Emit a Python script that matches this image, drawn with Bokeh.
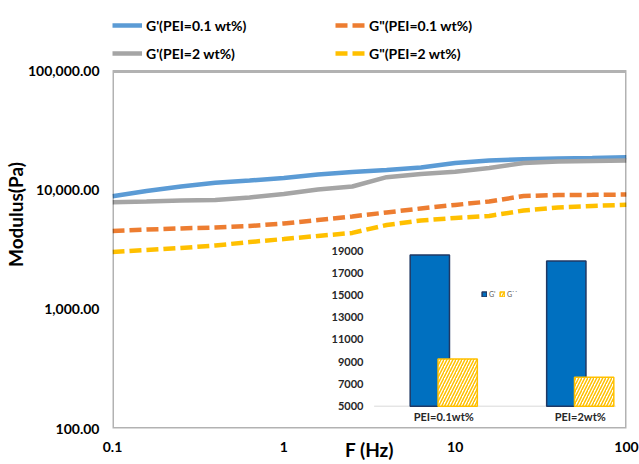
from bokeh.plotting import figure
from bokeh.models import (Range1d, FixedTicker, NumeralTickFormatter, Legend, LegendItem,
                          LinearScale, BoxAnnotation)
from bokeh.core.properties import value
from bokeh.embed import file_html
from bokeh.resources import INLINE

# ---- main data: frequency sweep ----
freq = [0.1, 0.158, 0.251, 0.398, 0.631, 1, 1.58, 2.51, 3.98, 6.31, 10, 15.8, 25.1, 39.8, 63.1, 100]
g1_01 = [8960, 9910, 10800, 11600, 12130, 12740, 13630, 14300, 14870, 15600, 17020, 17860, 18330, 18580, 18760, 19050]
g2_01 = [4570, 4700, 4800, 4890, 5030, 5280, 5650, 6050, 6540, 7060, 7560, 8090, 8990, 9170, 9190, 9250]
g1_2 = [7980, 8080, 8240, 8320, 8730, 9350, 10200, 10810, 12940, 13760, 14360, 15450, 17030, 17530, 17700, 17880]
g2_2 = [3040, 3160, 3290, 3450, 3690, 3910, 4150, 4400, 5130, 5600, 5880, 6110, 6790, 7200, 7410, 7590]

series_names = ["G'(PEI=0.1 wt%)", 'G"(PEI=0.1 wt%)', "G'(PEI=2 wt%)", 'G"(PEI=2 wt%)']

x_ticks = [0.1, 1, 10, 100]
y_ticks = [100, 1000, 10000, 100000]

# ---- inset data: bar chart ----
inset_cats = ["PEI=0.1wt%", "PEI=2wt%"]
inset_gp = [18600, 18050]
inset_gpp = [9250, 7600]
inset_ticks = [5000, 7000, 9000, 11000, 13000, 15000, 17000, 19000]

FONT = "Lato"

# frame extends to the top of the canvas so the legend (drawn inside the frame) is visible;
# the chart box itself is drawn as a BoxAnnotation from 0.1..100 x 100..100000
p = figure(width=639, height=464, x_axis_type="log", y_axis_type="log",
           x_range=Range1d(0.1, 100), y_range=Range1d(100, 395000),
           output_backend="svg", toolbar_location=None,
           min_border_left=110, min_border_right=13, min_border_top=0, min_border_bottom=36)

p.outline_line_color = None
p.xgrid.visible = False
p.ygrid.visible = False
p.background_fill_color = "white"
p.border_fill_color = "white"

box = BoxAnnotation(left=x_ticks[0], right=x_ticks[-1], bottom=y_ticks[0], top=y_ticks[-1],
                    fill_alpha=0, line_color="black", line_width=3)
p.add_layout(box)

for ax in (p.xaxis[0], p.yaxis[0]):
    ax.axis_line_color = None
    ax.major_tick_line_color = None
    ax.minor_tick_line_color = None
    ax.major_tick_out = 0
    ax.major_tick_in = 0
    ax.minor_tick_out = 0
    ax.minor_tick_in = 0
    ax.major_label_text_font = FONT
    ax.major_label_text_font_style = "bold"
    ax.major_label_text_font_size = "14px"
    ax.major_label_text_color = "black"
    ax.axis_label_text_font = FONT
    ax.axis_label_text_font_style = "bold"
    ax.axis_label_text_font_size = "19px"
    ax.axis_label_text_color = "black"

p.xaxis.ticker = FixedTicker(ticks=x_ticks)
p.xaxis.formatter = NumeralTickFormatter(format="0.[0]")
p.xaxis.major_label_standoff = 13
p.xaxis.axis_label = "F (Hz)"
p.xaxis.axis_label_standoff = -17

p.yaxis.ticker = FixedTicker(ticks=y_ticks)
p.yaxis.formatter = NumeralTickFormatter(format="0,0.00")
p.yaxis.major_label_standoff = 13
p.yaxis.axis_label = "Modulus(Pa)"
p.yaxis.axis_label_standoff = -2

# ---- main lines ----
colors = ["#5B9BD5", "#ED7D31", "#A5A5A5", "#FFC000"]
dashes = ["solid", "12 5", "solid", "12 5"]
ys = [g1_01, g2_01, g1_2, g2_2]
renderers = []
for yv, c, d in zip(ys, colors, dashes):
    r = p.line(freq, yv, line_color=c, line_width=4.5, line_dash=d)
    renderers.append(r)

legend = Legend(items=[LegendItem(label=n, renderers=[r]) for n, r in zip(series_names, renderers)],
                orientation="horizontal", ncols=2, location=(0, 365),
                glyph_width=30, glyph_height=20, label_width=181, label_height=20,
                label_standoff=4, spacing=8, padding=0, margin=0,
                border_line_alpha=0, background_fill_alpha=0,
                label_text_font=FONT, label_text_font_style="bold",
                label_text_font_size="14px", label_text_color="black")
p.add_layout(legend, "center")

# ---- inset bar chart (extra linear ranges on the same frame) ----
p.extra_x_ranges = {"ix": Range1d(-2.427, 1.339)}
p.extra_y_ranges = {"iy": Range1d(2995, 41480)}
p.extra_x_scales = {"ix": LinearScale()}
p.extra_y_scales = {"iy": LinearScale()}

idx = list(range(len(inset_cats)))
off = 0.102
bw = 0.288
# baseline
p.segment(x0=[-0.51], y0=[inset_ticks[0]], x1=[1.26], y1=[inset_ticks[0]],
          line_color="#D9D9D9", line_width=1, x_range_name="ix", y_range_name="iy")
rb1 = p.vbar(x=[i - off for i in idx], top=inset_gp, bottom=inset_ticks[0], width=bw,
             fill_color="#0070C0", line_color="#1F3864", line_width=1.5,
             x_range_name="ix", y_range_name="iy")
rb2 = p.vbar(x=[i + off for i in idx], top=inset_gpp, bottom=inset_ticks[0], width=bw,
             fill_color="white", line_color="#FFC000", line_width=1.5,
             hatch_pattern="right_diagonal_line", hatch_color="#FFC000",
             hatch_scale=6, hatch_weight=1.5,
             x_range_name="ix", y_range_name="iy")

p.text(x=[-0.588] * len(inset_ticks), y=inset_ticks, text=[str(t) for t in inset_ticks],
       text_align="right", text_baseline="middle", text_font=value(FONT),
       text_font_style="bold", text_font_size="11px", text_color="#262626",
       x_range_name="ix", y_range_name="iy")
p.text(x=idx, y=[inset_ticks[0]] * len(idx), text=inset_cats, y_offset=4,
       text_align="center", text_baseline="top", text_font=value(FONT),
       text_font_style="bold", text_font_size="11px", text_color="#262626",
       x_range_name="ix", y_range_name="iy")

inset_legend = Legend(items=[LegendItem(label="G'", renderers=[rb1]),
                             LegendItem(label="G``", renderers=[rb2])],
                      orientation="horizontal", location=(369, 130),
                      glyph_width=6, glyph_height=6, label_height=8, label_width=8,
                      label_standoff=2, spacing=2, padding=0, margin=0,
                      border_line_alpha=0, background_fill_alpha=0,
                      label_text_font=FONT, label_text_font_size="7px",
                      label_text_color="#595959")
p.add_layout(inset_legend, "center")

open("out.html", "w").write(file_html(p, INLINE))
